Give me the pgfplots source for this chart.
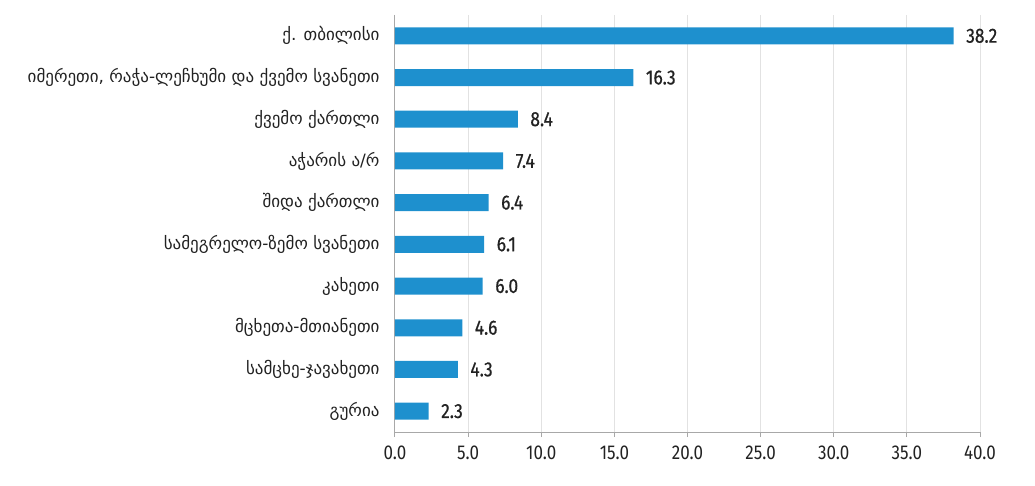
\documentclass[border=0pt]{standalone}
\usepackage{fontspec}
\setmainfont{Fira Sans}[FakeStretch=0.85]
\newfontfamily\numfont{Fira Sans}[FakeStretch=0.85, FakeBold=0.6]
\newfontfamily\geo{DejaVu Sans}
\usepackage{pgfplots}
\pgfplotsset{compat=1.18}
\definecolor{barblue}{HTML}{1E90CE}
\definecolor{gridgray}{HTML}{E2E2E2}
\definecolor{axisgray}{HTML}{A8A8A8}
\definecolor{txt}{HTML}{222222}
\begin{document}
\begin{tikzpicture}
\useasboundingbox (-395pt,-53pt) rectangle (640pt,432pt);
\begin{axis}[
  at={(0,0)}, anchor=south west,
  scale only axis, width=585pt, height=417pt,
  xbar, bar width=17pt,
  xmin=0, xmax=40, ymin=-0.5, ymax=9.5,
  y dir=reverse,
  axis x line*=bottom, axis y line*=left,
  axis line style={axisgray, line width=1pt},
  xtick={0,5,...,40},
  xticklabel={\pgfmathprintnumber[fixed,fixed zerofill,precision=1]{\tick}},
  /pgf/number format/assume math mode=true,
  xticklabel style={font=\fontsize{20}{22}\selectfont, text=txt, yshift=-5pt},
  tick align=outside,
  major tick length=5pt,
  tick style={axisgray, line width=1pt},
  ytick={0,...,9},
  y tick style={draw=none},
  yticklabels={ქ. თბილისი, {იმერეთი, რაჭა-ლეჩხუმი და ქვემო სვანეთი}, ქვემო ქართლი, აჭარის ა/რ, შიდა ქართლი, სამეგრელო-ზემო სვანეთი, კახეთი, მცხეთა-მთიანეთი, სამცხე-ჯავახეთი, გურია},
  yticklabel style={font=\geo\fontsize{17}{19}\selectfont, text=txt, xshift=-7pt},
  xmajorgrids, grid style={gridgray, line width=1pt},
  nodes near coords,
  nodes near coords style={font=\numfont\fontsize{20.5}{22}\selectfont, text=txt, anchor=west, xshift=9pt,
    /pgf/number format/.cd, fixed, fixed zerofill, precision=1, assume math mode=true},
]
\addplot[fill=barblue, draw=none] coordinates {
(38.2,0) (16.3,1) (8.4,2) (7.4,3) (6.4,4) (6.1,5) (6.0,6) (4.6,7) (4.3,8) (2.3,9)};
\end{axis}
\end{tikzpicture}
\end{document}
